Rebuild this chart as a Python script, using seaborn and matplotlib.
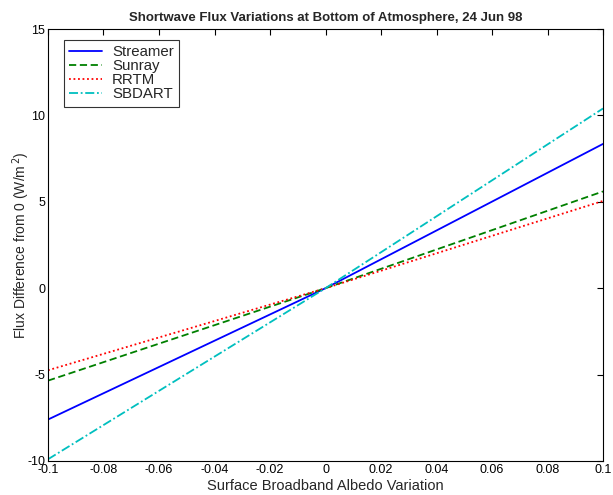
import pandas as pd
import matplotlib
matplotlib.use("Agg")
import matplotlib.pyplot as plt
import seaborn as sns

# Data
albedo = [-0.1, 0.0, 0.1]
streamer = [-7.6, 0.0, 8.35]
sunray = [-5.35, 0.0, 5.6]
rrtm = [-4.75, 0.0, 5.05]
sbdart = [-9.9, 0.0, 10.4]

models = ["Streamer", "Sunray", "RRTM", "SBDART"]
colors = ["#0000ff", "#008000", "#ff0000", "#00bfbf"]
styles = ["-", (0, (4, 2)), (0, (1, 1.5)), (0, (5, 1.5, 1, 1.5))]

df = pd.DataFrame({
    "albedo": albedo * 4,
    "flux": streamer + sunray + rrtm + sbdart,
    "model": [m for m in models for _ in albedo],
})

sns.set_style("white")
plt.rcParams['font.family'] = ['Liberation Sans', 'DejaVu Sans']
plt.rcParams['axes.unicode_minus'] = False

fig = plt.figure(figsize=(6.13, 4.95), dpi=100)
ax = fig.add_axes([0.0783, 0.0687, 0.9054, 0.8727])

for m, c, ls in zip(models, colors, styles):
    sns.lineplot(data=df[df["model"] == m], x="albedo", y="flux",
                 color=c, linestyle=ls, linewidth=1.3, label=m, ax=ax)

ax.set_xlim(-0.1, 0.1)
ax.set_ylim(-10, 15)
ax.set_xticks([-0.1, -0.08, -0.06, -0.04, -0.02, 0, 0.02, 0.04, 0.06, 0.08, 0.1])
ax.set_xticklabels(["-0.1", "-0.08", "-0.06", "-0.04", "-0.02", "0",
                    "0.02", "0.04", "0.06", "0.08", "0.1"])
ax.set_yticks([-10, -5, 0, 5, 10, 15])
ax.tick_params(direction="in", top=True, right=True, length=4, width=0.8,
               labelsize=9, pad=2, colors="black")
for s in ax.spines.values():
    s.set_color("black")
    s.set_linewidth(0.8)

ax.set_xlabel("Surface Broadband Albedo Variation", fontsize=10.5, labelpad=2)
ax.set_ylabel("Flux Difference from 0 (W/m$^{\\,2}$)", fontsize=10)
ax.yaxis.set_label_coords(-0.028, 0.5)
ax.set_title("Shortwave Flux Variations at Bottom of Atmosphere, 24 Jun 98",
             fontsize=9.5, fontweight="bold", pad=6)

leg = ax.legend(loc="upper left", bbox_to_anchor=(0.0288, 0.9745), borderaxespad=0,
                fontsize=10.8, frameon=True, fancybox=False,
                handlelength=2.2, labelspacing=0.0,
                borderpad=0.35, handletextpad=0.65)
leg.get_frame().set_edgecolor("black")
leg.get_frame().set_linewidth(0.8)

fig.savefig("out.png", dpi=100)
